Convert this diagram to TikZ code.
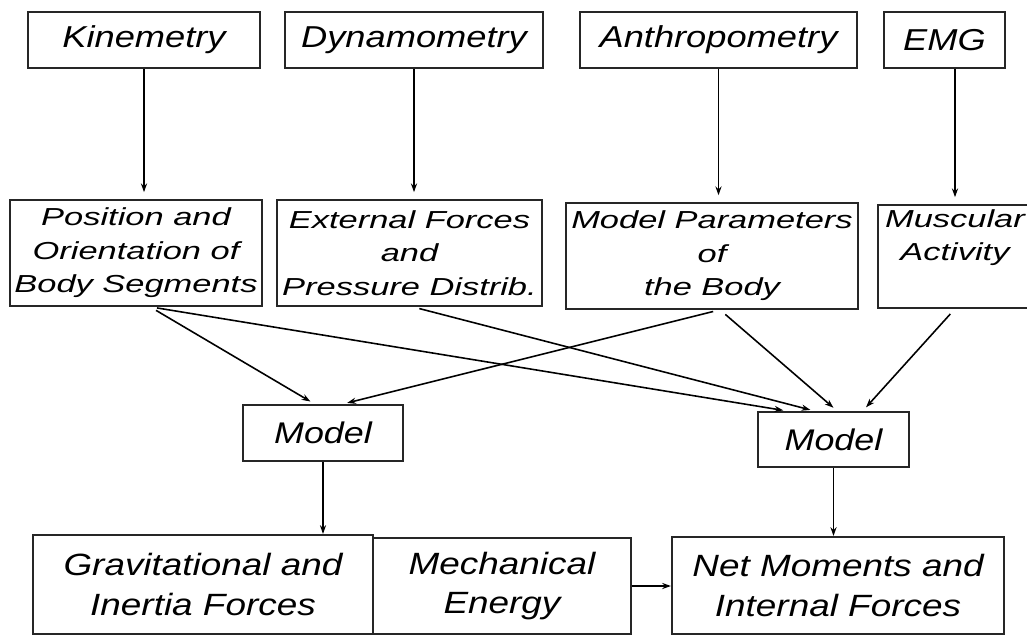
\documentclass[tikz,border=0pt]{standalone}
\usepackage{fontspec}
\setmainfont{Liberation Sans}
\newfontfamily\wideA[FakeStretch=1.2]{Liberation Sans}
\newfontfamily\wideB[FakeStretch=1.4]{Liberation Sans}
\usetikzlibrary{arrows.meta}

\begin{document}
\begin{tikzpicture}[
  box/.style={
    draw=black!85, line width=0.9pt, rectangle,
    inner sep=2pt, align=center
  },
  src/.style={box, minimum height=1.12cm,
    font=\wideA\itshape\fontsize{17.2}{20}\selectfont},
  dat/.style={box, minimum height=2.12cm,
    font=\wideB\itshape\fontsize{14}{19}\selectfont},
  mdl/.style={box, minimum height=1.12cm,
    font=\wideA\itshape\fontsize{17}{20}\selectfont},
  res/.style={box, line width=1.2pt, minimum height=1.94cm,
    font=\wideA\itshape\fontsize{17.5}{22.7}\selectfont},
  arr/.style={-{Stealth[length=5pt, width=3.5pt]}, line width=0.9pt},
  link/.style={arr, shorten <=4pt, shorten >=3pt},
]

\useasboundingbox (0,0) rectangle (20.54,-12.72);

\def\top{-0.8}
\def\mid{-5.06}

\node[src, minimum width=4.64cm] (kin) at (2.88,\top)  {Kinemetry};
\node[src, minimum width=5.16cm] (dyn) at (8.28,\top)  {Dynamometry};
\node[src, minimum width=5.54cm] (ant) at (14.37,\top) {Anthropometry};
\node[src, minimum width=2.42cm] (emg) at (18.89,\top) {EMG};

\node[dat, minimum width=5.04cm] (pos) at (2.72,\mid)
  {Position and\\Orientation of\\Body Segments};
\node[dat, minimum width=5.3cm]  (ext) at (8.19,\mid)
  {External Forces\\and\\Pressure Distrib.};
\node[dat, minimum width=5.84cm] (par) at (14.24,-5.12)
  {Model Parameters\\of\\the Body};
\node[dat, minimum width=3.08cm, minimum height=2.06cm] (mus) at (19.1,-5.13)
  {Muscular\\Activity\\\strut};

\node[mdl, minimum width=3.2cm]  (lmod) at (6.46,-8.66)  {Model};
\node[mdl, minimum width=3.02cm, minimum height=1.1cm] (rmod) at (16.67,-8.79) {Model};

\node[res, minimum width=6.8cm, minimum height=1.98cm] (grav) at (4.06,-11.69)
  {Gravitational and\\Inertia Forces};
\node[res, minimum width=5.16cm, minimum height=1.92cm] (mech) at (10.04,-11.72)
  {Mechanical\\Energy};
\node[res, minimum width=6.64cm] (net) at (16.76,-11.71)
  {Net Moments and\\Internal Forces};

\draw[arr, shorten >=4pt] (kin) -- (kin |- pos.north);
\draw[arr, shorten >=4pt] (dyn) -- (dyn |- ext.north);
\draw[arr, shorten >=4pt] (ant) -- (ant |- par.north);
\draw[arr, shorten >=4pt] (emg.south -| mus.north) -- (mus.north);

\draw[link] ([xshift=0.28cm]pos.south) -- ([xshift=-0.16cm]lmod.north);
\draw[link] ([xshift=0.28cm]pos.south) -- ([xshift=-0.9cm]rmod.north);
\draw[link] ([xshift=0.06cm]ext.south) -- ([xshift=-0.36cm]rmod.north);
\draw[link] ([xshift=0.16cm]par.south) -- ([xshift=0.38cm]lmod.north);
\draw[link] ([xshift=0.16cm]par.south) -- ([xshift=0.08cm]rmod.north);
\draw[link] (mus.south) -- ([xshift=0.58cm]rmod.north);

\draw[arr] (lmod) -- (lmod |- grav.north);
\draw[arr] (rmod) -- (rmod |- net.north);
\draw[arr] (mech) -- (mech -| net.west);

\end{tikzpicture}
\end{document}
